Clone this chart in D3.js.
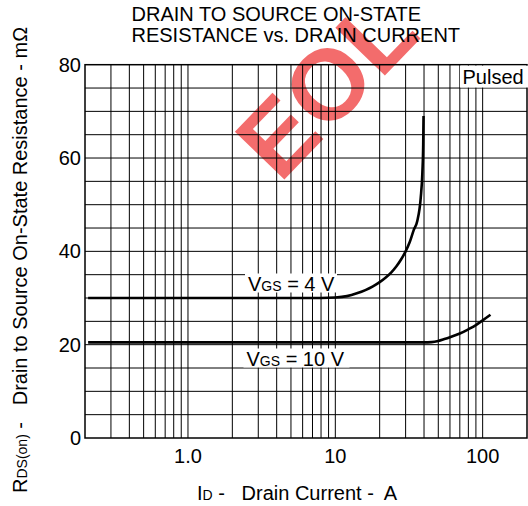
<!DOCTYPE html>
<html>
<head>
<meta charset="utf-8">
<script src="https://cdn.jsdelivr.net/npm/d3@7"></script>
<style>
  body { margin: 0; background: #fff; }
  svg { display: block; font-family: "Liberation Sans", Arial, Helvetica, sans-serif; }
  text { white-space: pre; }
</style>
</head>
<body>
<svg id="chart"></svg>
<script>
// data
var vgs4Current = [0.21, 2, 8, 10, 12, 14, 16, 18, 20, 22, 24, 26, 28, 30, 32, 34, 36, 38, 39, 39.5, 39.7];
var vgs4Res     = [30, 30, 30, 30.1, 30.4, 31, 31.7, 32.5, 33.4, 34.4, 35.5, 36.8, 38.3, 40.0, 42, 44.5, 46.5, 51.5, 57, 63, 69];
var vgs10Current = [0.21, 10, 40, 45, 50, 55, 60, 70, 80, 90, 100, 113];
var vgs10Res     = [20.5, 20.5, 20.5, 20.55, 20.8, 21.2, 21.6, 22.4, 23.3, 24.2, 25.2, 26.4];

var xTicks = [1, 10, 100];
var xTickLabels = ["1.0", "10", "100"];
var yTicks = [0, 20, 40, 60, 80];

var width = 528, height = 506;
var margin = {top: 64.7, left: 85, right: 1, bottom: 68};

var svg = d3.select("#chart")
  .attr("width", width)
  .attr("height", height);

var x = d3.scaleLog()
  .domain([0.2, 200])
  .range([margin.left, 527]);

var y = d3.scaleLinear()
  .domain([0, 80])
  .range([438, margin.top]);

// watermark
svg.append("text")
  .attr("transform", "translate(326,86) rotate(-46)")
  .attr("text-anchor", "middle")
  .attr("dominant-baseline", "central")
  .style("font-size", "100px")
  .style("font-weight", "bold")
  .style("fill", "#f03c3c")
  .style("opacity", 0.75)
  .text("EOL");

// grid
var vLines = [];
[0.1, 1, 10, 100].forEach(function(dec) {
  for (var k = 1; k <= 9; k++) {
    var v = dec * k;
    if (v > 0.2 + 1e-9 && v < 200 - 1e-9) vLines.push(v);
  }
});

var grid = svg.append("g");
grid.selectAll(".vg")
  .data(vLines)
  .enter()
  .append("line")
  .attr("x1", function(d) { return x(d); })
  .attr("x2", function(d) { return x(d); })
  .attr("y1", y(80))
  .attr("y2", y(0))
  .attr("stroke", "#000")
  .attr("stroke-width", 1);

grid.selectAll(".hg")
  .data(d3.range(5, 80, 5))
  .enter()
  .append("line")
  .attr("x1", x(0.2))
  .attr("x2", x(200))
  .attr("y1", function(d) { return y(d); })
  .attr("y2", function(d) { return y(d); })
  .attr("stroke", "#000")
  .attr("stroke-width", 1);

// frame
svg.append("rect")
  .attr("x", x(0.2))
  .attr("y", y(80))
  .attr("width", x(200) - x(0.2))
  .attr("height", y(0) - y(80))
  .attr("fill", "none")
  .attr("stroke", "#000")
  .attr("stroke-width", 1.5);

// "Pulsed" note
svg.append("rect")
  .attr("x", 460)
  .attr("y", y(80) + 1)
  .attr("width", 70)
  .attr("height", y(75) - y(80) - 1.5)
  .attr("fill", "#fff");
svg.append("text")
  .attr("x", 462.5)
  .attr("y", 83.5)
  .style("font-size", "20px")
  .text("Pulsed");

// curves
var line = d3.line()
  .x(function(d) { return x(d[0]); })
  .y(function(d) { return y(d[1]); })
  .curve(d3.curveMonotoneX);

svg.append("path")
  .datum(d3.zip(vgs4Current, vgs4Res))
  .attr("d", line)
  .attr("fill", "none")
  .attr("stroke", "#000")
  .attr("stroke-width", 2.6);

svg.append("path")
  .datum(d3.zip(vgs10Current, vgs10Res))
  .attr("d", line)
  .attr("fill", "none")
  .attr("stroke", "#000")
  .attr("stroke-width", 2.6);

// curve labels
function vgsLabel(px, py, value, boxW) {
  svg.append("rect")
    .attr("x", px - 3)
    .attr("y", py - 17)
    .attr("width", boxW)
    .attr("height", 19)
    .attr("fill", "#fff");
  var t = svg.append("text")
    .attr("x", px)
    .attr("y", py)
    .style("font-size", "20px");
  t.append("tspan").text("V");
  t.append("tspan").style("font-size", "14px").text("GS");
  t.append("tspan").text(" = " + value + " V");
}
vgsLabel(248, 290.5, "4", 92);
vgsLabel(246.5, 365.5, "10", 106);

// axis tick labels
svg.append("g")
  .selectAll("text")
  .data(yTicks)
  .enter()
  .append("text")
  .attr("x", 81)
  .attr("y", function(d) { return y(d) + 7; })
  .attr("text-anchor", "end")
  .style("font-size", "20px")
  .text(function(d) { return d; });

svg.append("g")
  .selectAll("text")
  .data(xTicks)
  .enter()
  .append("text")
  .attr("x", function(d) { return x(d); })
  .attr("y", 463)
  .attr("text-anchor", "middle")
  .style("font-size", "20px")
  .text(function(d, i) { return xTickLabels[i]; });

// titles
var title = svg.append("text")
  .attr("x", 131.5)
  .style("font-size", "20px");
title.append("tspan").attr("x", 131.5).attr("y", 20.5).text("DRAIN TO SOURCE ON-STATE");
title.append("tspan").attr("x", 131.5).attr("y", 41.5).text("RESISTANCE vs. DRAIN CURRENT");

var xTitle = svg.append("text")
  .attr("x", 197)
  .attr("y", 500)
  .style("font-size", "20px");
xTitle.append("tspan").text("I");
xTitle.append("tspan").style("font-size", "14px").text("D");
xTitle.append("tspan").text(" -   Drain Current -  A");

var yTitle = svg.append("text")
  .attr("transform", "translate(26.5,493) rotate(-90)")
  .style("font-size", "20px");
yTitle.append("tspan").text("R");
yTitle.append("tspan").style("font-size", "14px").text("DS(on)");
yTitle.append("tspan").text(" -   Drain to Source On-State Resistance - m\u03A9");
</script>
</body>
</html>
